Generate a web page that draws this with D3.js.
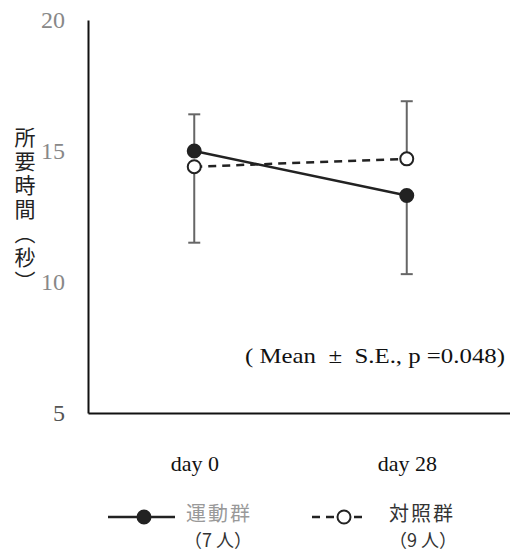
<!DOCTYPE html>
<html>
<head>
<meta charset="utf-8">
<script src="https://cdn.jsdelivr.net/npm/d3@7"></script>
<style>
  body { margin: 0; background: #fff; }
  svg { display: block; }
</style>
</head>
<body>
<script>
// data
var days = ["day 0", "day 28"];
var groupNames = ["運動群", "対照群"];
var groupCounts = ["（7 人）", "（9 人）"];
var exerciseMean = [15.0, 13.3];
var exerciseErrUp = [1.4, 0];
var exerciseErrDown = [0, 3.0];
var controlMean = [14.4, 14.7];
var controlErrUp = [0, 2.2];
var controlErrDown = [2.9, 0];
var yTicks = [5, 10, 15, 20];
var note = "( Mean  ±  S.E., p =0.048)";

var serif = "'Liberation Serif', 'Times New Roman', 'DejaVu Serif', serif";
var cjk = "'Noto Sans CJK JP', sans-serif";

var width = 510, height = 554;

var svg = d3.select("body").append("svg")
  .attr("width", width)
  .attr("height", height);

var xScale = d3.scalePoint().domain(days).range([88, 513]).padding(0.5);
var yScale = d3.scaleLinear().domain([5, 20]).range([413, 20]);

// y axis
var yAxis = d3.axisLeft(yScale).tickValues(yTicks).tickSize(0).tickPadding(23);
var gy = svg.append("g").attr("transform", "translate(88,0)").call(yAxis);
gy.attr("font-family", serif);
gy.select(".domain").attr("stroke", "#111").attr("stroke-width", 2);
gy.selectAll("text")
  .style("font-family", serif)
  .attr("font-size", 24)
  .attr("dy", "0.3em")
  .attr("fill", function(d){ return d == 5 ? "#555" : "#888"; });

// x axis
var xAxis = d3.axisBottom(xScale).tickSize(0).tickPadding(42);
var gx = svg.append("g").attr("transform", "translate(0,413)").call(xAxis);
gx.attr("font-family", serif);
gx.select(".domain").attr("stroke", "#111").attr("stroke-width", 2);
gx.selectAll("text")
  .style("font-family", serif)
  .attr("font-size", 22)
  .attr("fill", "#111");

// y title, vertical
svg.append("text")
  .attr("x", 25)
  .attr("y", 127)
  .style("font-family", cjk)
  .attr("font-size", 21)
  .attr("fill", "#222")
  .style("writing-mode", "vertical-rl")
  .style("letter-spacing", "3px")
  .text("所要時間（秒）");

var groups = [
  {mean: exerciseMean, up: exerciseErrUp, down: exerciseErrDown, fill: "#222", dash: null},
  {mean: controlMean, up: controlErrUp, down: controlErrDown, fill: "#fff", dash: "8,6"}
];

// error bars
groups.forEach(function(g) {
  days.forEach(function(d, i) {
    var cx = xScale(d);
    var top = yScale(g.mean[i] + g.up[i]);
    var bot = yScale(g.mean[i] - g.down[i]);
    svg.append("line")
      .attr("x1", cx).attr("x2", cx).attr("y1", top).attr("y2", bot)
      .attr("stroke", "#666").attr("stroke-width", 2);
    [g.up[i] > 0 ? top : null, g.down[i] > 0 ? bot : null].forEach(function(yy) {
      if (yy === null) return;
      svg.append("line")
        .attr("x1", cx - 6).attr("x2", cx + 6).attr("y1", yy).attr("y2", yy)
        .attr("stroke", "#666").attr("stroke-width", 2);
    });
  });
});

var line = d3.line()
  .x(function(d, i){ return xScale(days[i]); })
  .y(function(d){ return yScale(d); });

// lines
groups.forEach(function(g) {
  svg.append("path")
    .attr("d", line(g.mean))
    .attr("fill", "none")
    .attr("stroke", "#222")
    .attr("stroke-width", 2.5)
    .attr("stroke-dasharray", g.dash);
});

// markers
groups.forEach(function(g) {
  svg.selectAll(null)
    .data(g.mean)
    .enter()
    .append("circle")
    .attr("cx", function(d, i){ return xScale(days[i]); })
    .attr("cy", function(d){ return yScale(d); })
    .attr("r", 6.5)
    .attr("fill", g.fill)
    .attr("stroke", "#222")
    .attr("stroke-width", 2);
});

// note
svg.append("text")
  .attr("x", 245)
  .attr("y", 363)
  .attr("xml:space", "preserve")
  .attr("textLength", 260)
  .attr("lengthAdjust", "spacingAndGlyphs")
  .style("font-family", serif)
  .attr("font-size", 22)
  .attr("fill", "#111")
  .style("white-space", "pre")
  .text(note);

// legend
var legendX = [108, 312];
groups.forEach(function(g, i) {
  var lx = legendX[i];
  var lg = svg.append("g");
  lg.append("line")
    .attr("x1", lx).attr("x2", lx + (i == 0 ? 67 : 56))
    .attr("y1", 517).attr("y2", 517)
    .attr("stroke", "#222").attr("stroke-width", 2.5)
    .attr("stroke-dasharray", g.dash);
  lg.append("circle")
    .attr("cx", lx + (i == 0 ? 36 : 32)).attr("cy", 517).attr("r", 6.5)
    .attr("fill", g.fill).attr("stroke", "#222").attr("stroke-width", 2);
  lg.append("text")
    .attr("x", i == 0 ? 186 : 389).attr("y", 521)
    .style("font-family", cjk)
    .attr("font-size", 20)
    .attr("fill", i == 0 ? "#999" : "#333")
    .style("letter-spacing", "2px")
    .text(groupNames[i]);
  lg.append("text")
    .attr("x", i == 0 ? 184 : 389).attr("y", 547)
    .style("font-family", cjk)
    .attr("font-size", 18)
    .attr("fill", "#333")
    .text(groupCounts[i]);
});
</script>
</body>
</html>
